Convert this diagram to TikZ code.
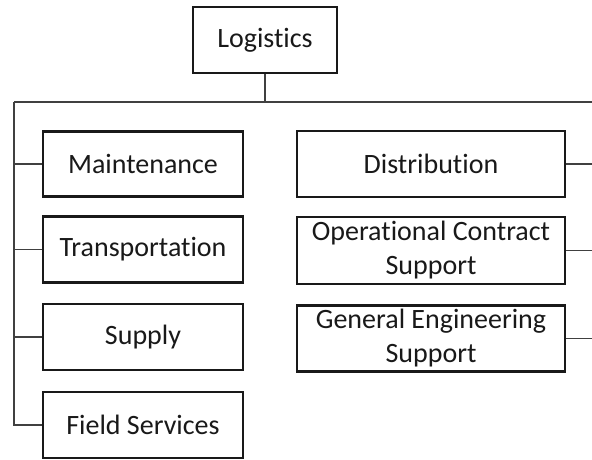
\documentclass[tikz,border=0pt]{standalone}
\usepackage{fontspec}
\setmainfont[Ligatures=NoCommon]{Carlito}
\begin{document}
\begin{tikzpicture}[x=1pt,y=-1pt,
  box/.style={draw=black!90, line width=2.6pt, fill=white, inner sep=0pt, align=center,
    font=\fontsize{28}{34}\selectfont, text=black!90},
  leftbox/.style={box, minimum width=200pt, minimum height=65pt},
  rightbox/.style={box, minimum width=268pt, minimum height=66pt},
  conn/.style={draw=black!75, line width=1.5pt}]
\useasboundingbox (0,0) rectangle (592,459);
\begin{scope}
\clip (0,0) rectangle (592,459);
\node[box, minimum width=144pt, minimum height=66pt] (log) at (265,40) {Logistics};
\node[leftbox] (mai) at (143,164) {Maintenance};
\node[leftbox, minimum height=66pt] (tra) at (143,249.5) {Transportation};
\node[leftbox, minimum height=66pt] (sup) at (143,337) {Supply};
\node[leftbox, minimum height=66pt] (fie) at (143,425) {Field Services};
\node[rightbox] (dis) at (431,164) {Distribution};
\node[rightbox, minimum height=67pt] (ocs) at (431,250.5) {Operational Contract\\Support};
\node[rightbox] (ges) at (431,338.5) {General Engineering\\Support};
\coordinate (bus) at (265,102);
\coordinate (busL) at (14,102);
\coordinate (busR) at (592,102);
\coordinate (rM) at (592,164);
\coordinate (rO) at (592,250.5);
\coordinate (rG) at (592,338.5);
\draw[conn] (log.south) -- (bus);
\draw[conn] (busL) -- (busR);
\draw[conn] (busL) |- (mai.west);
\draw[conn] (busL) |- (tra.west);
\draw[conn] (busL) |- (sup.west);
\draw[conn] (busL) |- (fie.west);
\draw[conn] (dis.east) -- (rM);
\draw[conn] (ocs.east) -- (rO);
\draw[conn] (ges.east) -- (rG);
\end{scope}
\end{tikzpicture}
\end{document}
